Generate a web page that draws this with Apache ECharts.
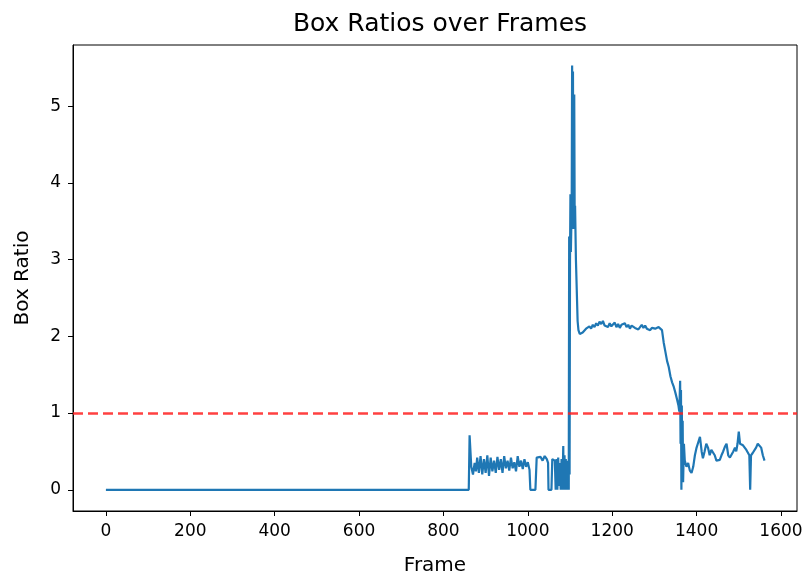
<!DOCTYPE html>
<html>
<head>
<meta charset="utf-8">
<script src="https://cdn.jsdelivr.net/npm/echarts@6/dist/echarts.min.js"></script>
<style>html,body{margin:0;padding:0;background:#fff;}#c{width:808px;height:581px;}</style>
</head>
<body>
<div id="c"></div>
<script>
const frames = [0,860,862,866,870,874,877,880,884,888,892,896,900,904,908,912,916,920,924,928,932,936,940,944,948,952,956,960,964,968,972,976,980,984,988,992,996,1000,1004,1006,1018,1021,1025,1030,1035,1040,1045,1048,1049,1056,1058,1062,1064,1066,1068,1070,1072,1074,1076,1078,1080,1082,1084,1085,1087,1088,1090,1091,1093,1094,1096,1097,1098,1099,1100,1101,1102,1104,1105,1106,1107,1108,1110,1111,1112,1114,1116,1118,1120,1123,1126,1130,1134,1138,1142,1146,1150,1154,1158,1162,1166,1170,1174,1178,1182,1186,1190,1194,1198,1202,1206,1210,1214,1218,1222,1226,1230,1234,1238,1242,1246,1250,1254,1258,1262,1266,1270,1274,1278,1282,1286,1290,1294,1298,1302,1306,1310,1314,1318,1322,1326,1330,1334,1338,1342,1346,1350,1354,1357,1359,1361,1362,1363,1364,1365,1366,1367,1368,1370,1372,1376,1380,1384,1388,1392,1396,1400,1404,1408,1412,1415,1419,1423,1427,1431,1435,1439,1443,1447,1451,1455,1459,1463,1467,1471,1475,1479,1483,1487,1491,1494,1497,1500,1503,1506,1510,1514,1518,1522,1525,1527,1529,1533,1537,1541,1545,1549,1553,1557,1561];
const ratios = [0,0,0.71,0.3,0.2,0.35,0.24,0.42,0.22,0.44,0.2,0.4,0.22,0.45,0.18,0.42,0.24,0.38,0.22,0.43,0.26,0.4,0.22,0.44,0.28,0.38,0.25,0.42,0.28,0.36,0.24,0.44,0.3,0.38,0.27,0.4,0.3,0.36,0.26,0,0,0.42,0.4,0.43,0.38,0.44,0.4,0.35,0,0,0.4,0.42,0.38,0,0.4,0,0.42,0.05,0.35,0,0.4,0,0.57,0,0.45,0,0.4,0,0.38,0,0.3,0,3.3,0.2,3.0,3.85,3.1,3.7,5.53,4.3,5.45,3.4,5.15,3.6,3.7,3.0,2.6,2.2,2.08,2.03,2.02,2.05,2.06,2.1,2.08,2.13,2.1,2.15,2.12,2.17,2.14,2.19,2.16,2.2,2.14,2.16,2.12,2.17,2.13,2.15,2.18,2.12,2.16,2.11,2.15,2.13,2.17,2.12,2.15,2.1,2.14,2.16,2.11,2.13,2.09,2.12,2.15,2.11,2.14,2.1,2.12,2.08,2.11,2.09,2.1,2.08,2.12,2.13,2.08,1.92,1.8,1.68,1.6,1.48,1.4,1.34,1.26,1.17,1.1,1.02,1.42,0.6,1.3,0,1.1,0.2,0.9,0.1,0.6,0.38,0.3,0.35,0.25,0.22,0.3,0.45,0.55,0.62,0.69,0.5,0.41,0.5,0.6,0.55,0.45,0.52,0.5,0.45,0.38,0.4,0.39,0.45,0.5,0.56,0.6,0.45,0.42,0.43,0.5,0.55,0.5,0.6,0.76,0.6,0.62,0.58,0.6,0.52,0.5,0.45,0,0.45,0.48,0.5,0.55,0.6,0.62,0.55,0.45,0.38];
const xTicks = [0,200,400,600,800,1000,1200,1400,1600];
const yTicks = [0,1,2,3,4,5];
const threshold = 1;

const data = frames.map((f,i)=>[f, ratios[i]]);
const font = 'DejaVu Sans';
const chart = echarts.init(document.getElementById('c'), null, {renderer:'canvas'});
chart.setOption({
  animation:false,
  backgroundColor:'#fff',
  title:{text:'Box Ratios over Frames', left:435, textAlign:'center', top:7,
    textStyle:{fontFamily:font, fontSize:25, fontWeight:'normal', color:'#000'}},
  grid:{left:73, right:11, top:45, bottom:69, show:true, borderColor:'#000', borderWidth:1, backgroundColor:'transparent'},
  xAxis:{type:'value', min:-78, max:1638,
    name:'Frame', nameLocation:'middle', nameGap:45,
    nameTextStyle:{fontFamily:font, fontSize:20, color:'#000'},
    axisLine:{show:true, onZero:false, lineStyle:{color:'#000', width:1}},
    axisTick:{show:true, length:5, lineStyle:{color:'#000'}, customValues:xTicks},
    axisLabel:{fontFamily:font, fontSize:17, color:'#000', margin:12, customValues:xTicks, formatter:v=>String(v)},
    splitLine:{show:false}},
  yAxis:{type:'value', min:-0.276, max:5.796,
    name:'Box Ratio', nameLocation:'middle', nameGap:40, nameRotate:90,
    nameTextStyle:{fontFamily:font, fontSize:20, color:'#000'},
    axisLine:{show:true, onZero:false, lineStyle:{color:'#000', width:1}},
    axisTick:{show:true, length:5, lineStyle:{color:'#000'}, customValues:yTicks},
    axisLabel:{fontFamily:font, fontSize:17, color:'#000', margin:12, customValues:yTicks, formatter:v=>String(v)},
    splitLine:{show:false}},
  series:[{type:'line', data:data, showSymbol:false, symbol:'none',
    lineStyle:{color:'#1f77b4', width:2.2}, itemStyle:{color:'#1f77b4'},
    markLine:{silent:true, symbol:['none','none'], label:{show:false},
      lineStyle:{color:'#ff2020', width:2.5, type:[10,5], opacity:0.85},
      data:[{yAxis:threshold}]}
  }]
});
</script>
</body>
</html>
